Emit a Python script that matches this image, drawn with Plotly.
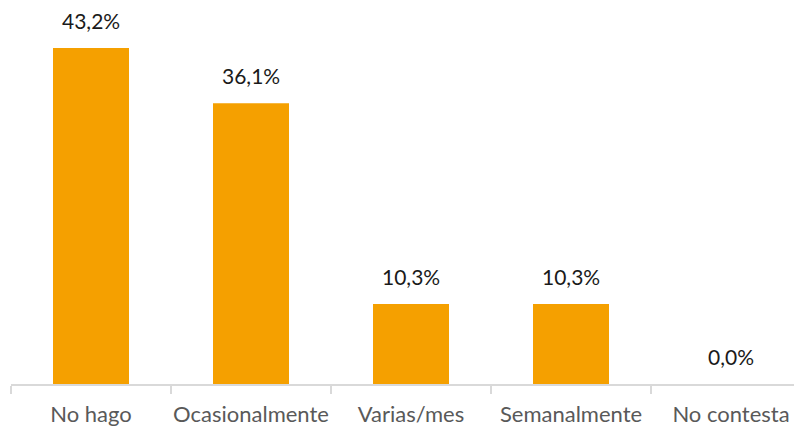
import plotly.graph_objects as go

categories = ["No hago", "Ocasionalmente", "Varias/mes", "Semanalmente", "No contesta"]
values = [43.2, 36.1, 10.3, 10.3, 0.0]
labels = ["43,2%", "36,1%", "10,3%", "10,3%", "0,0%"]

fig = go.Figure()
fig.add_trace(go.Bar(
    x=categories, y=values,
    marker=dict(color="#F5A000", line=dict(width=0)),
    width=0.475,
    hoverinfo="skip",
))

for c, v, t in zip(categories, values, labels):
    fig.add_annotation(
        x=c, y=v, text=t, showarrow=False,
        yanchor="bottom", yshift=13,
        font=dict(family="Lato", size=21, color="#1a1a1a"),
    )

fig.update_layout(
    width=794, height=418,
    margin=dict(l=3, r=0, t=0, b=42, autoexpand=False),
    paper_bgcolor="white", plot_bgcolor="white",
    showlegend=False,
    xaxis=dict(
        type="category",
        range=[-0.5, 4.44375],
        automargin=False,
        tickangle=0,
        showline=True, linecolor="#d9d9d9", linewidth=1.5,
        ticks="outside", tickson="boundaries", ticklen=8,
        tickcolor="#d9d9d9", tickwidth=1.5,
        ticklabelstandoff=10,
        tickfont=dict(family="Lato", size=22, color="#595959"),
        showgrid=False, zeroline=False,
    ),
    yaxis=dict(
        range=[0, 48.34],
        visible=False, showgrid=False, zeroline=False,
    ),
)

fig.write_html("out.html")
